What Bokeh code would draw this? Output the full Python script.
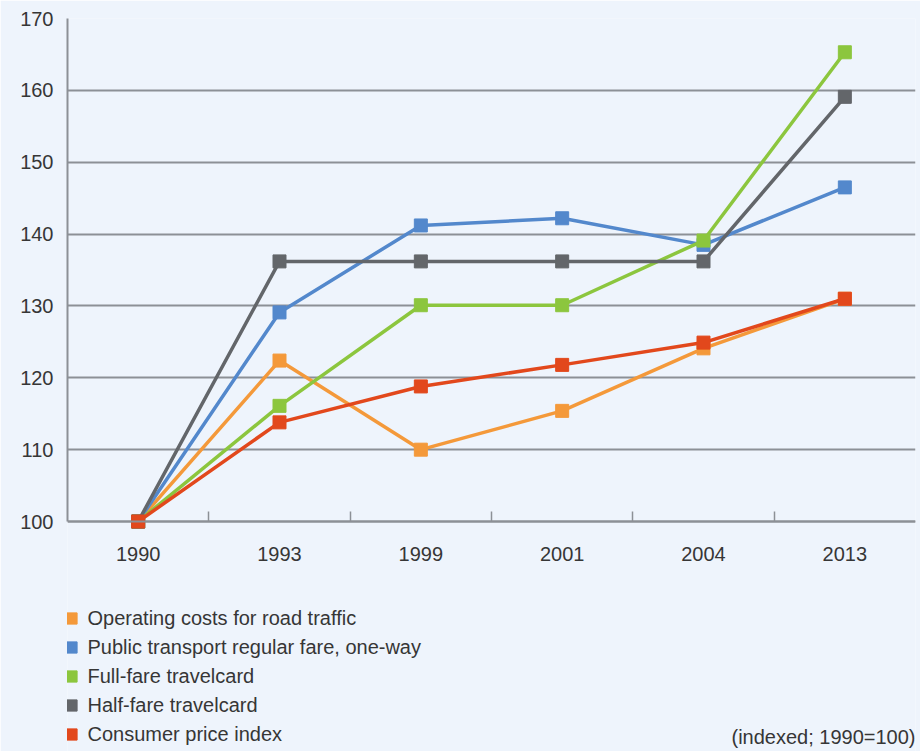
from bokeh.plotting import figure
from bokeh.models import (FixedTicker, Range1d, Legend, LegendItem, Label,
                          LabelSet, ColumnDataSource)
from bokeh.core.properties import value
from bokeh.embed import file_html
from bokeh.resources import INLINE

years = ["1990", "1993", "1999", "2001", "2004", "2013"]
operating_costs = [100, 122.4, 110.0, 115.4, 124.1, 131.0]
public_transport = [100, 129.1, 141.2, 142.2, 138.5, 146.5]
full_fare = [100, 116.1, 130.1, 130.1, 139.1, 165.3]
half_fare = [100, 136.2, 136.2, 136.2, 136.2, 159.1]
cpi = [100, 113.8, 118.8, 121.8, 124.9, 131.0]
y_ticks = [100, 110, 120, 130, 140, 150, 160, 170]
note_text = "(indexed; 1990=100)"

series = [
    ("Operating costs for road traffic", operating_costs, "#f4993a"),
    ("Public transport regular fare, one-way", public_transport, "#5388cc"),
    ("Full-fare travelcard", full_fare, "#8cc63e"),
    ("Half-fare travelcard", half_fare, "#63666a"),
    ("Consumer price index", cpi, "#e2481c"),
]

BG = "#eef4fc"
GRID = "#8c9096"
TEXT = "#363636"
FONT = "Liberation Sans"

xs = list(range(len(years)))
Y_MIN, Y_MAX = 68, 170

p = figure(width=920, height=751, output_backend="svg", toolbar_location=None,
           x_range=Range1d(-0.5, len(years) - 0.5), y_range=Range1d(Y_MIN, Y_MAX),
           min_border_left=67, min_border_right=5, min_border_top=18,
           min_border_bottom=0)
p.background_fill_color = BG
p.border_fill_color = BG
p.outline_line_color = None

# x axis: line at 100 with boundary ticks pointing up
xa = p.xaxis[0]
xa.ticker = FixedTicker(ticks=[], minor_ticks=[i + 0.5 for i in xs[:-1]])
xa.fixed_location = 100
xa.major_tick_in = 0
xa.major_tick_out = 0
xa.minor_tick_in = 10
xa.minor_tick_out = 0
xa.minor_tick_line_color = GRID
xa.minor_tick_line_width = 1.5
xa.axis_line_color = GRID
xa.axis_line_width = 2
xa.major_label_standoff = 0

# category labels below the axis line
lab_src = ColumnDataSource(dict(x=xs, y=[95.5] * len(xs), t=years))
p.add_layout(LabelSet(x="x", y="y", text="t", source=lab_src,
                      text_align="center", text_baseline="middle",
                      text_font=value(FONT), text_font_size="20px",
                      text_color=TEXT))

# y axis
ya = p.yaxis[0]
ya.ticker = FixedTicker(ticks=y_ticks)
ya.bounds = (100, 170)
ya.major_tick_in = 0
ya.major_tick_out = 0
ya.minor_tick_line_color = None
ya.axis_line_color = GRID
ya.axis_line_width = 2
ya.major_label_text_font = FONT
ya.major_label_text_font_size = "20px"
ya.major_label_text_color = TEXT
ya.major_label_standoff = 14

p.xgrid.grid_line_color = None
p.ygrid.ticker = FixedTicker(ticks=y_ticks)
p.ygrid.grid_line_color = GRID
p.ygrid.grid_line_width = 2

items = []
for name, vals, color in series:
    src = ColumnDataSource(dict(x=xs, y=vals))
    p.line("x", "y", source=src, line_color=color, line_width=3.5)
    r = p.scatter("x", "y", source=src, marker="square", size=13,
                  fill_color=color, line_color=color)
    items.append(LegendItem(label=name, renderers=[r]))

legend = Legend(items=items, location=(-10.5, 3),
                glyph_width=28, glyph_height=28, label_height=28, spacing=1,
                padding=0, margin=0, label_standoff=3,
                label_text_font=FONT, label_text_font_size="20px",
                label_text_color=TEXT, border_line_color=None,
                background_fill_alpha=0)
p.add_layout(legend, "center")

note = Label(x=len(years) - 0.5, y=69.95, text=note_text,
             text_align="right", text_baseline="middle",
             text_font=FONT, text_font_size="20px", text_color=TEXT)
p.add_layout(note)

open("out.html", "w").write(file_html(p, INLINE))
